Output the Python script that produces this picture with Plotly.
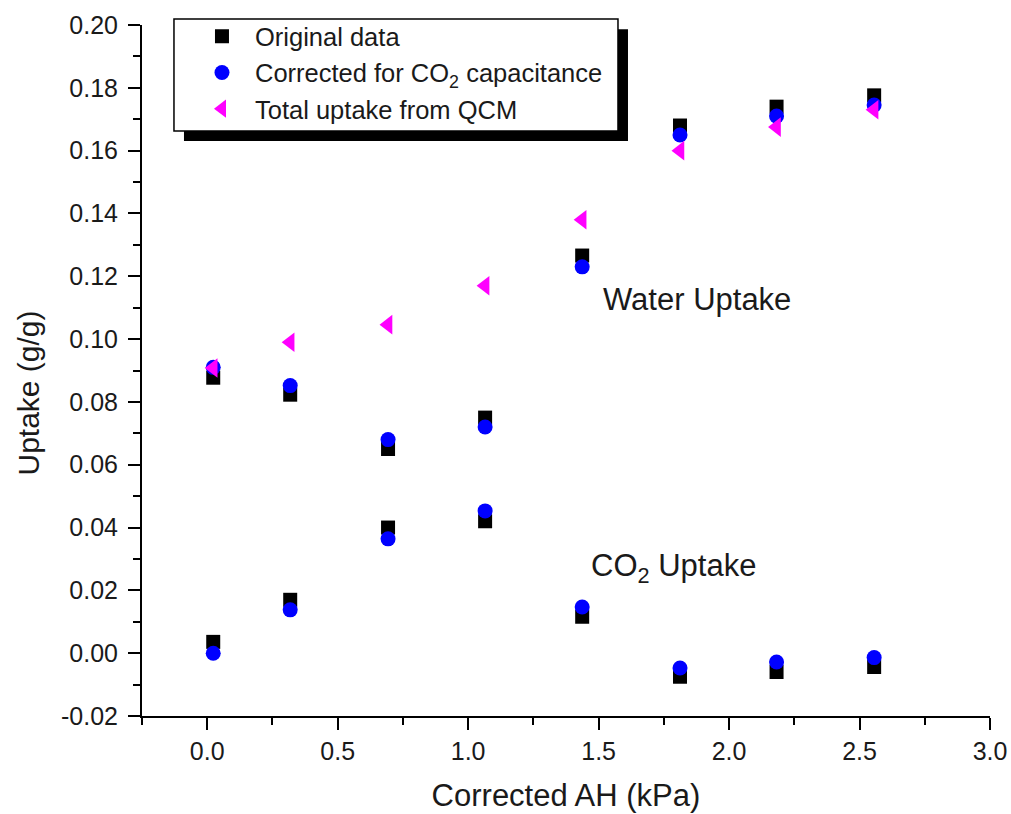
import plotly.graph_objects as go

# Corrected absolute humidity (kPa)
ah = [0.023, 0.318, 0.693, 1.065, 1.437, 1.812, 2.182, 2.556]

# Original data (g/g)
orig_water = [0.0877, 0.0823, 0.0650, 0.0750, 0.1266, 0.1680, 0.1740, 0.1776]
orig_co2 = [0.0036, 0.0170, 0.0400, 0.0420, 0.0116, -0.0075, -0.0060, -0.0044]

# Corrected for CO2 capacitance (g/g)
corr_water = [0.0910, 0.0852, 0.0680, 0.0720, 0.1230, 0.1650, 0.1710, 0.1745]
corr_co2 = [0.0000, 0.0138, 0.0364, 0.0453, 0.0147, -0.0047, -0.0028, -0.0014]

# Total uptake from QCM (g/g)
qcm_total = [0.0908, 0.0990, 0.1046, 0.1170, 0.1380, 0.1600, 0.1675, 0.1730]

legend_names = ["Original data",
                "Corrected for CO<sub>2</sub> capacitance",
                "Total uptake from QCM"]

# Axis ticks
x_ticks = [0.0, 0.5, 1.0, 1.5, 2.0, 2.5, 3.0]
x_ticktext = ["0.0", "0.5", "1.0", "1.5", "2.0", "2.5", "3.0"]
y_ticks = [-0.02, 0.00, 0.02, 0.04, 0.06, 0.08, 0.10, 0.12, 0.14, 0.16, 0.18, 0.20]
y_ticktext = ["-0.02", "0.00", "0.02", "0.04", "0.06", "0.08", "0.10",
              "0.12", "0.14", "0.16", "0.18", "0.20"]

FONT = "Arial, Liberation Sans, sans-serif"
TEXT = "#1a1a1a"

fig = go.Figure()

fig.add_trace(go.Scatter(
    x=ah + ah, y=orig_water + orig_co2, mode="markers", name=legend_names[0],
    marker=dict(symbol="square", size=14, color="black"), cliponaxis=False))
fig.add_trace(go.Scatter(
    x=ah + ah, y=corr_water + corr_co2, mode="markers", name=legend_names[1],
    marker=dict(symbol="circle", size=15, color="#0000FF"), cliponaxis=False))
fig.add_trace(go.Scatter(
    x=ah, y=qcm_total, mode="markers", name=legend_names[2],
    marker=dict(symbol="triangle-left", size=17, color="#FF00FF"), cliponaxis=False))

# Legend frame with a drop shadow
fig.add_shape(type="rect", xref="paper", yref="paper",
              x0=0.0495, x1=0.5731, y0=0.832, y1=0.994,
              fillcolor="black", line=dict(width=0), layer="above")
fig.add_shape(type="rect", xref="paper", yref="paper",
              x0=0.0377, x1=0.5613, y0=0.8466, y1=1.0087,
              fillcolor="white", line=dict(color="black", width=1.5), layer="above")

fig.add_annotation(x=1.877, y=0.1125, xref="x", yref="y", text="Water Uptake",
                   showarrow=False, font=dict(family=FONT, size=31, color=TEXT))
fig.add_annotation(x=1.788, y=0.0270, xref="x", yref="y", text="CO<sub>2</sub> Uptake",
                   showarrow=False, font=dict(family=FONT, size=31, color=TEXT))
# y-axis title
fig.add_annotation(x=-0.1344, y=0.4667, xref="paper", yref="paper", text="Uptake (g/g)",
                   textangle=-90, showarrow=False, xanchor="center", yanchor="middle",
                   font=dict(family=FONT, size=30, color=TEXT))

axis_common = dict(
    showline=True, linecolor="black", linewidth=2, mirror=False,
    ticks="outside", ticklen=12, tickwidth=2, tickcolor="black",
    showgrid=False, zeroline=False, automargin=False,
    tickfont=dict(family=FONT, size=25, color=TEXT),
)

fig.update_xaxes(range=[-0.25, 3.0], tickmode="array", tickvals=x_ticks, ticktext=x_ticktext,
                 minor=dict(ticks="outside", ticklen=7, tickwidth=2, tickcolor="black", dtick=0.25, tick0=0),
                 title=dict(text="Corrected AH (kPa)", font=dict(family=FONT, size=31, color=TEXT), standoff=20),
                 **axis_common)
fig.update_yaxes(range=[-0.02, 0.20], tickmode="array", tickvals=y_ticks, ticktext=y_ticktext,
                 minor=dict(ticks="outside", ticklen=7, tickwidth=2, tickcolor="black", dtick=0.01, tick0=0),
                 ticklabelstandoff=5,
                 **axis_common)

fig.update_layout(
    width=1011, height=814,
    margin=dict(l=142, r=21, t=25, b=98, autoexpand=False),
    plot_bgcolor="white", paper_bgcolor="white",
    font=dict(family=FONT, color=TEXT),
    legend=dict(x=0.0554, y=1.017, xanchor="left", yanchor="top",
                bgcolor="rgba(0,0,0,0)", borderwidth=0,
                font=dict(family=FONT, size=25.5, color=TEXT),
                itemwidth=56, tracegroupgap=0),
)

fig.write_html("out.html")
